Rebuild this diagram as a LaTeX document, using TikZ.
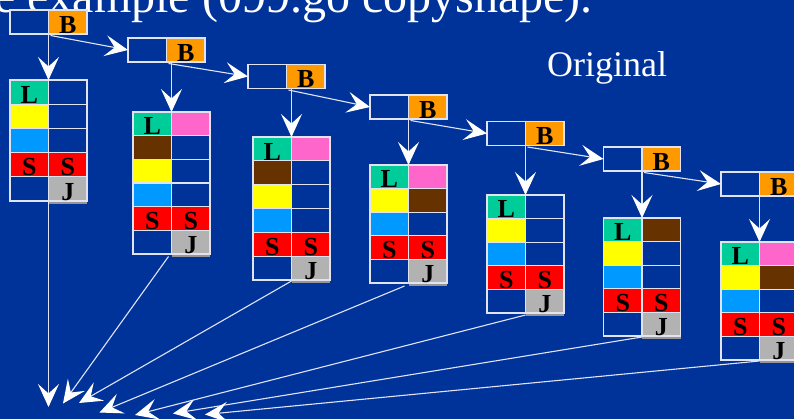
\documentclass[tikz,border=0pt]{standalone}
\usepackage{fontspec}
\setmainfont{Liberation Serif}
\usetikzlibrary{arrows.meta}
\definecolor{bgc}{RGB}{0,51,153}
\definecolor{tealc}{RGB}{0,204,153}
\definecolor{yelc}{RGB}{255,255,0}
\definecolor{cync}{RGB}{0,153,255}
\definecolor{redc}{RGB}{255,0,0}
\definecolor{gryc}{RGB}{178,178,178}
\definecolor{shdc}{RGB}{150,150,150}
\definecolor{orgc}{RGB}{255,153,0}
\definecolor{pnkc}{RGB}{255,102,204}
\definecolor{brnc}{RGB}{102,51,0}
\definecolor{edgec}{RGB}{225,228,240}
\definecolor{lnc}{RGB}{225,228,245}
\def\rowht{24pt}
\tikzset{
  cellbox/.style={draw=edgec, line width=1.1pt, minimum width=38.5pt, minimum height=\rowht, inner sep=0pt, outer sep=0pt, anchor=north west},
  letter/.style={anchor=base, inner sep=0pt, text=black, font=\fontsize{26}{26}\selectfont\bfseries},
  conn/.style={draw=lnc, line width=1.1pt, arrows={-Stealth[length=23pt,width=21pt,inset=9.5pt,color=white,fill=white]}},
  shadow/.style={fill=shdc}
}
\newcommand\mkcell[5]{\node[cellbox,fill=#4] (#1) at (#2,#3) {};
  \node[letter] (#1-txt) at ([yshift=0.8pt]#1.south) {#5};}
\newcommand\mkrow[7]{\mkcell{#1l}{#2}{#3}{#4}{#5}\mkcell{#1r}{#2+38.5}{#3}{#6}{#7}}
\newcommand\jshadow[1]{\fill[shadow] ([yshift=-0.6pt]#1.south west) rectangle ([yshift=-3pt]#1.south east);}
\begin{document}
\begin{tikzpicture}[x=1pt,y=-1pt]
\useasboundingbox (0,0) rectangle (794,419);
\fill[bgc] (0,0) rectangle (794,419);
\clip (0,0) rectangle (794,419);
% title and label
\node[anchor=base east, inner sep=0pt, text=white, font=\fontsize{48}{48}\selectfont] (title) at (593,13) {e example (099.go copyshape).};
\node[anchor=base west, inner sep=0pt, text=white, font=\fontsize{36}{36}\selectfont] (orig) at (547,77) {Original};
% B boxes
\def\rowht{24pt}
\mkrow{b1}{10}{10}{bgc}{}{orgc}{B}
\mkrow{b2}{128}{38}{bgc}{}{orgc}{B}
\mkrow{b3}{248}{64.5}{bgc}{}{orgc}{B}
\mkrow{b4}{370}{95}{bgc}{}{orgc}{B}
\mkrow{b5}{487}{121.5}{bgc}{}{orgc}{B}
\mkrow{b6}{603.5}{147}{bgc}{}{orgc}{B}
\mkrow{b7}{721}{172}{bgc}{}{orgc}{B}
% Table 1
\def\rowht{24.2pt}
\mkrow{t1-1}{10}{80}{tealc}{L}{bgc}{}
\mkrow{t1-2}{10}{104.2}{yelc}{}{bgc}{}
\mkrow{t1-3}{10}{128.4}{cync}{}{bgc}{}
\mkrow{t1-4}{10}{152.6}{redc}{S}{redc}{S}
\mkrow{t1-5}{10}{176.8}{bgc}{}{gryc}{J}
\jshadow{t1-5r}
% Table 2
\def\rowht{23.67pt}
\mkrow{t2-1}{133}{112}{tealc}{L}{pnkc}{}
\mkrow{t2-2}{133}{135.67}{brnc}{}{bgc}{}
\mkrow{t2-3}{133}{159.33}{yelc}{}{bgc}{}
\mkrow{t2-4}{133}{183}{cync}{}{bgc}{}
\mkrow{t2-5}{133}{206.67}{redc}{S}{redc}{S}
\mkrow{t2-6}{133}{230.33}{bgc}{}{gryc}{J}
\jshadow{t2-6r}
% Table 3
\def\rowht{23.83pt}
\mkrow{t3-1}{253}{137}{tealc}{L}{pnkc}{}
\mkrow{t3-2}{253}{160.83}{brnc}{}{bgc}{}
\mkrow{t3-3}{253}{184.67}{yelc}{}{bgc}{}
\mkrow{t3-4}{253}{208.5}{cync}{}{bgc}{}
\mkrow{t3-5}{253}{232.33}{redc}{S}{redc}{S}
\mkrow{t3-6}{253}{256.17}{bgc}{}{gryc}{J}
\jshadow{t3-6r}
% Table 4
\def\rowht{23.6pt}
\mkrow{t4-1}{370}{165}{tealc}{L}{pnkc}{}
\mkrow{t4-2}{370}{188.6}{yelc}{}{brnc}{}
\mkrow{t4-3}{370}{212.2}{cync}{}{bgc}{}
\mkrow{t4-4}{370}{235.8}{redc}{S}{redc}{S}
\mkrow{t4-5}{370}{259.4}{bgc}{}{gryc}{J}
\jshadow{t4-5r}
% Table 5
\mkrow{t5-1}{487}{195}{tealc}{L}{bgc}{}
\mkrow{t5-2}{487}{218.6}{yelc}{}{bgc}{}
\mkrow{t5-3}{487}{242.2}{cync}{}{bgc}{}
\mkrow{t5-4}{487}{265.8}{redc}{S}{redc}{S}
\mkrow{t5-5}{487}{289.4}{bgc}{}{gryc}{J}
\jshadow{t5-5r}
% Table 6
\mkrow{t6-1}{603.5}{218}{tealc}{L}{brnc}{}
\mkrow{t6-2}{603.5}{241.6}{yelc}{}{bgc}{}
\mkrow{t6-3}{603.5}{265.2}{cync}{}{bgc}{}
\mkrow{t6-4}{603.5}{288.8}{redc}{S}{redc}{S}
\mkrow{t6-5}{603.5}{312.4}{bgc}{}{gryc}{J}
\jshadow{t6-5r}
% Table 7
\mkrow{t7-1}{721}{242}{tealc}{L}{pnkc}{}
\mkrow{t7-2}{721}{265.6}{yelc}{}{brnc}{}
\mkrow{t7-3}{721}{289.2}{cync}{}{bgc}{}
\mkrow{t7-4}{721}{312.8}{redc}{S}{redc}{S}
\mkrow{t7-5}{721}{336.4}{bgc}{}{gryc}{J}
\jshadow{t7-5r}
% B to B
\draw[conn] ([xshift=2pt,yshift=-1.5pt]b1l.south east) -- (b2l.west);
\draw[conn] ([xshift=2pt,yshift=-1.5pt]b2l.south east) -- (b3l.west);
\draw[conn] ([xshift=2pt,yshift=-1.5pt]b3l.south east) -- (b4l.west);
\draw[conn] ([xshift=2pt,yshift=-1.5pt]b4l.south east) -- (b5l.west);
\draw[conn] ([xshift=2pt,yshift=-1.5pt]b5l.south east) -- (b6l.west);
\draw[conn] ([xshift=2pt,yshift=-1.5pt]b6l.south east) -- (b7l.west);
% B to tables
\draw[conn] (t1-1l.north east |- b1l.south) -- (t1-1l.north east);
\draw[conn] (t2-1l.north east |- b2l.south) -- (t2-1l.north east);
\draw[conn] (t3-1l.north east |- b3l.south) -- (t3-1l.north east);
\draw[conn] (t4-1l.north east |- b4l.south) -- (t4-1l.north east);
\draw[conn] (t5-1l.north east |- b5l.south) -- (t5-1l.north east);
\draw[conn] (t6-1l.north east |- b6l.south) -- (t6-1l.north east);
\draw[conn] (t7-1l.north east |- b7l.south) -- (t7-1l.north east);
% converging ends
\coordinate (e1) at (48.5,407);
\coordinate (e2) at (63,403.5);
\coordinate (e3) at (79,403);
\coordinate (e4) at (99.5,412.5);
\coordinate (e5) at (135,415);
\coordinate (e6) at (173,413.5);
\coordinate (e7) at (205,414.5);
\draw[conn] (t1-5l.south east) -- (e1);
\draw[conn] ([xshift=-3pt,yshift=-2.5pt]t2-6l.south east) -- (e2);
\draw[conn] ([yshift=-1pt]t3-6l.south east) -- (e3);
\draw[conn] ([xshift=-4pt,yshift=-3pt]t4-5l.south east) -- (e4);
\draw[conn] ([yshift=-2pt]t5-5l.south east) -- (e5);
\draw[conn] ([yshift=-1pt]t6-5l.south east) -- (e6);
\draw[conn] ([yshift=-1pt]t7-5l.south east) -- (e7);
\end{tikzpicture}
\end{document}
